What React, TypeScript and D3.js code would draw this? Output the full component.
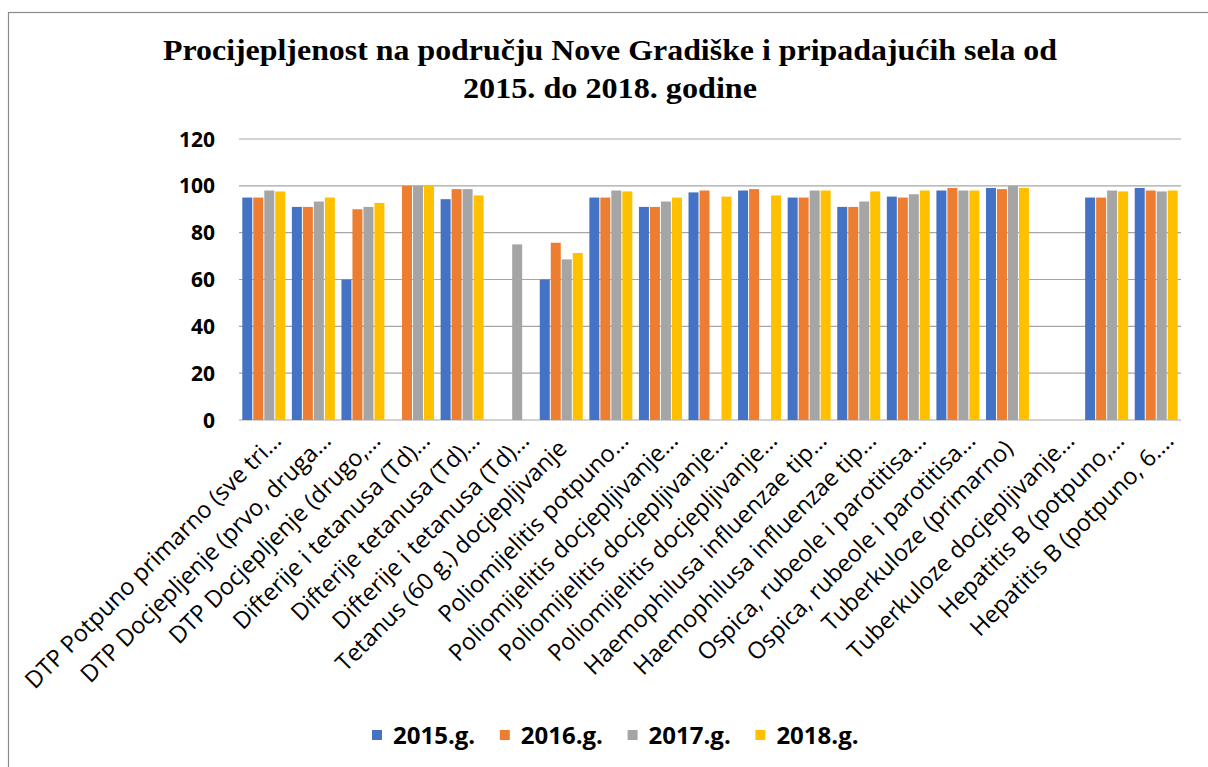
import React from "react";
import * as d3 from "d3";

const categories: string[] = [
  "DTP Potpuno primarno (sve tri…",
  "DTP Docjepljenje (prvo, druga…",
  "DTP Docjepljenje (drugo,…",
  "Difterije i tetanusa (Td)…",
  "Difterije tetanusa (Td)…",
  "Difterije i tetanusa (Td)…",
  "Tetanus (60 g.) docjepljivanje",
  "Poliomijelitis potpuno…",
  "Poliomijelitis docjepljivanje…",
  "Poliomijelitis docjepljivanje…",
  "Poliomijelitis docjepljivanje…",
  "Haemophilusa influenzae tip…",
  "Haemophilusa influenzae tip…",
  "Ospica, rubeole i parotitisa…",
  "Ospica, rubeole i parotitisa…",
  "Tuberkuloze (primarno)",
  "Tuberkuloze docjepljivanje…",
  "Hepatitis B (potpuno,…",
  "Hepatitis B (potpuno, 6.…",
];

const seriesNames: string[] = ["2015.g.", "2016.g.", "2017.g.", "2018.g."];
const seriesColors: string[] = ["#4472C4", "#ED7D31", "#A5A5A5", "#FFC000"];

const v2015: (number | null)[] = [95, 91, 60, null, 94.3, null, 60, 95, 91, 97.2, 98, 95, 91, 95.4, 98, 99.1, null, 95, 99.1];
const v2016: (number | null)[] = [95, 91, 90, 100, 98.6, null, 75.7, 95, 91, 98, 98.6, 95, 91, 95, 99.1, 98.6, null, 95, 98];
const v2017: (number | null)[] = [98, 93.3, 91, 100, 98.6, 75, 68.6, 98, 93.3, null, null, 98, 93.3, 96.4, 98, 100, null, 98, 97.6];
const v2018: (number | null)[] = [97.6, 95, 92.7, 100, 95.9, null, 71.3, 97.6, 95, 95.4, 95.9, 98, 97.6, 98, 98, 99.1, null, 97.6, 98];

const yTicks: number[] = [0, 20, 40, 60, 80, 100, 120];

const titleLines: string[] = [
  "Procijepljenost na području Nove Gradiške i pripadajućih sela od",
  "2015. do 2018. godine",
];

const allSeries = [v2015, v2016, v2017, v2018];

export default function App() {
  const W = 1208;
  const H = 767;
  const left = 239;
  const right = 1181;
  const top = 139;
  const bottom = 420;

  const x0 = d3
    .scaleBand<number>()
    .domain(d3.range(categories.length))
    .range([left, right])
    .paddingInner(0.113)
    .paddingOuter(0.0565);
  const x1 = d3
    .scaleBand<number>()
    .domain(d3.range(seriesNames.length))
    .range([0, x0.bandwidth()])
    .padding(0);
  const y = d3.scaleLinear().domain([0, 120]).range([bottom, top]);

  const sans = "'Open Sans', 'Liberation Sans', sans-serif";
  const titleWidths = [894, 294];

  return (
    <svg
      width={W}
      height={H}
      style={{ position: "absolute", left: 0, top: 0, background: "#fff" }}
    >
      <rect x={0} y={0} width={W} height={H} fill="#fff" />
      <rect x={8.5} y={12.5} width={W + 20} height={H + 20} fill="none" stroke="#8c8c8c" strokeWidth={1.2} />

      {titleLines.map((t, i) => (
        <text
          key={i}
          x={610}
          y={60 + i * 38}
          textAnchor="middle"
          fontFamily="'Liberation Serif', 'Times New Roman', serif"
          fontWeight="bold"
          fontSize={30}
          textLength={titleWidths[i]}
          lengthAdjust="spacingAndGlyphs"
          fill="#000"
        >
          {t}
        </text>
      ))}

      {yTicks.map((t) => (
        <g key={t}>
          <line x1={left} x2={right} y1={y(t)} y2={y(t)} stroke="#a6a6a6" strokeWidth={1.2} />
          <text
            x={215}
            y={y(t)}
            dy="0.36em"
            textAnchor="end"
            fontFamily={sans}
            fontWeight="bold"
            fontSize={21}
            fill="#000"
          >
            {t}
          </text>
        </g>
      ))}

      {categories.map((c, ci) => (
        <g key={ci}>
          {allSeries.map((s, si) => {
            const v = s[ci];
            if (v === null) return null;
            const bx = (x0(ci) as number) + (x1(si) as number);
            return (
              <rect
                key={si}
                x={bx + 0.5}
                y={y(v)}
                width={x1.bandwidth() - 1}
                height={y(0) - y(v)}
                fill={seriesColors[si]}
              />
            );
          })}
        </g>
      ))}

      {categories.map((c, ci) => {
        const cx = (x0(ci) as number) + x0.bandwidth() / 2;
        const ell = c.endsWith("…");
        const ax = cx + 7 + (ell ? 12 : 0);
        const ay = 450 - (ell ? 8 : 0);
        return (
          <text
            key={ci}
            transform={`translate(${ax},${ay}) rotate(-45)`}
            textAnchor="end"
            fontFamily={sans}
            fontSize={23.5}
            fill="#000"
          >
            {c}
          </text>
        );
      })}

      {seriesNames.map((s, si) => {
        const lx = 372 + si * 127.8;
        return (
          <g key={s}>
            <rect x={lx} y={730} width={10} height={10} fill={seriesColors[si]} />
            <text
              x={lx + 21}
              y={744}
              fontFamily={sans}
              fontWeight="bold"
              fontSize={24}
              fill="#000"
            >
              {s}
            </text>
          </g>
        );
      })}
    </svg>
  );
}
